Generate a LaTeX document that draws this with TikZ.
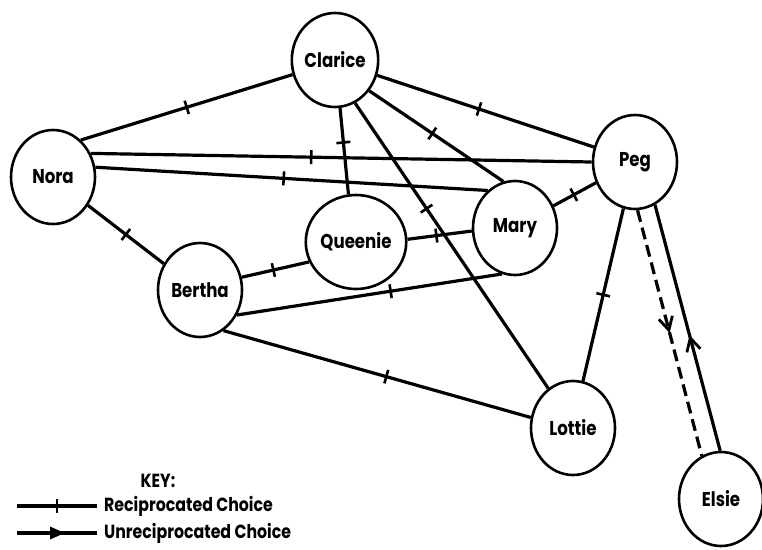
\documentclass[tikz,border=0pt]{standalone}
\usepackage{fontspec}
\setmainfont[FakeStretch=0.83]{Poppins}
\usetikzlibrary{shapes.geometric,arrows.meta,decorations.markings}
\begin{document}
\begin{tikzpicture}[x=1pt,y=-1pt,
  person/.style={ellipse, draw, line width=2.6pt, minimum width=84pt, minimum height=94pt,
    inner sep=0pt, font=\fontsize{20}{22}\selectfont\bfseries},
  edge/.style={line width=3.2pt},
  recip/.style={postaction={decorate}, decoration={markings,
    mark=at position #1 with {\draw[line width=2.6pt] (0pt,-7pt) -- (0pt,7pt);}}},
  recip/.default=0.5,
  midarrow/.style={postaction={decorate}, decoration={markings,
    mark=at position #1 with {\arrow[line width=2.8pt]{Straight Barb[length=13pt,width=14pt]}}}},
  keyarrow/.style={postaction={decorate}, decoration={markings,
    mark=at position #1 with {\arrow{Triangle[length=15pt,width=12pt]}}}},
  longdash/.style={dash pattern=on 12pt off 6pt},
  keytext/.style={font=\fontsize{19}{21}\selectfont\bfseries, inner sep=0pt}
]
\useasboundingbox (0,0) rectangle (762,549);

\node[person] (clarice) at (335,60) {Clarice};
\node[person] (nora) at (53,177) {Nora};
\node[person] (queenie) at (356,242) {Queenie};
\node[person] (mary) at (515,228) {Mary};
\node[person] (bertha) at (200,290) {Bertha};
\node[person] (peg) at (635,162) {Peg};
\node[person] (lottie) at (573,428) {Lottie};
\node[person] (elsie) at (721,499) {Elsie};

\draw[edge, recip=0.5] (nora.53) -- (clarice.199);
\draw[edge, recip=0.47] (clarice.340) -- (peg.160);
\draw[edge, recip=0.47] (clarice.318) -- (mary.104);
\draw[edge, recip=0.4] (clarice.276) -- (queenie.99);
\draw[edge, recip=0.37] (clarice.295) -- (lottie.122);
\draw[edge, recip=0.44] (nora.32) -- (peg.180);
\draw[edge, recip=0.48] (nora.13) -- (mary.126);
\draw[edge, recip=0.5] (nora.321) -- (bertha.144);
\draw[edge, recip=0.47] (bertha.17) -- (queenie.203);
\draw[edge, recip=0.58] (bertha.326) -- (mary.254);
\draw[edge, recip=0.53] (bertha.300) -- (lottie.166);
\draw[edge, recip=0.45] (queenie.3) -- (mary.184);
\draw[edge, recip=0.48] (mary.30) -- (peg.208);
\draw[edge, recip=0.5] (peg.256) -- (lottie.78);
\draw[edge, longdash, midarrow=0.5] (peg.273) -- (elsie.114);
\draw[edge, midarrow=0.47] (elsie.91) -- (peg.295);

% key
\node[keytext] (keyt) at (158,481) {KEY:};
\coordinate (k1a) at (17,506);
\coordinate (k1b) at (97,506);
\draw[edge, recip=0.5] (k1a) -- (k1b);
\node[keytext, anchor=west] (k1t) at (104,506) {Reciprocated Choice};
\coordinate (k2a) at (17,533);
\coordinate (k2b) at (97,533);
\draw[edge, keyarrow=0.6] (k2a) -- (k2b);
\node[keytext, anchor=west] (k2t) at (104,533) {Unreciprocated Choice};
\end{tikzpicture}
\end{document}
